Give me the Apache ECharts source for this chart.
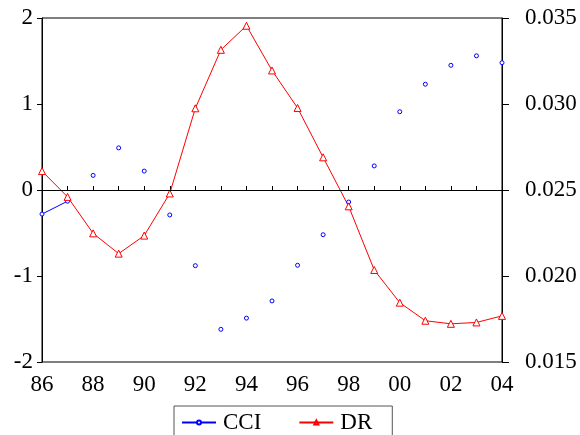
<!DOCTYPE html>
<html>
<head>
<meta charset="utf-8">
<script src="https://cdn.jsdelivr.net/npm/echarts@6/dist/echarts.min.js"></script>
<style>html,body{margin:0;padding:0;background:#fff}#c{width:580px;height:435px}</style>
</head>
<body>
<div id="c"></div>
<script>
var years = ['86','87','88','89','90','91','92','93','94','95','96','97','98','99','00','01','02','03','04'];
var cci = [-0.28,-0.13,0.17,0.49,0.22,-0.29,-0.88,-1.62,-1.49,-1.29,-0.875,-0.52,-0.14,0.28,0.91,1.23,1.45,1.56,1.48];
var dr = [0.0261,0.0246,0.02248,0.0213,0.02235,0.0248,0.02975,0.03315,0.03455,0.03195,0.02977,0.0269,0.02405,0.02035,0.01845,0.0174,0.01722,0.0173,0.01768];
var leftTicks = {min:-2, max:2, interval:1};
var rightTicks = {min:0.015, max:0.035, interval:0.005};

var font = '"Liberation Serif", "Times New Roman", serif';
var fs = 23;
var cciSegment = cci.map(function(v,i){ return i < 2 ? v : null; });

var chart = echarts.init(document.getElementById('c'), null, {renderer:'canvas'});
chart.setOption({
  animation:false,
  backgroundColor:'#fff',
  grid:{left:42, right:78, top:18, height:344, show:true, borderColor:'#000', borderWidth:1, backgroundColor:'transparent'},
  legend:{
    top:406, left:174,
    padding:[5,20,14,7],
    borderColor:'#555', borderWidth:1,
    itemWidth:34, itemHeight:5, itemGap:37,
    textStyle:{fontFamily:font, fontSize:fs, color:'#000', padding:[0,0,0,2]},
    data:['CCI','DR']
  },
  xAxis:{
    type:'category', data:years, boundaryGap:false,
    axisLine:{lineStyle:{color:'#000', width:1}},
    axisTick:{inside:true, length:4, interval:0, lineStyle:{color:'#000'}},
    axisLabel:{interval:1, margin:11, fontFamily:font, fontSize:fs, color:'#000'},
    splitLine:{show:false}
  },
  yAxis:[
    {type:'value', min:leftTicks.min, max:leftTicks.max, interval:leftTicks.interval, position:'left',
     axisLine:{show:true, lineStyle:{color:'#000'}},
     axisTick:{show:true, length:5, lineStyle:{color:'#000'}},
     axisLabel:{margin:9, fontFamily:font, fontSize:fs, color:'#000'},
     splitLine:{show:false}},
    {type:'value', min:rightTicks.min, max:rightTicks.max, interval:rightTicks.interval, position:'right',
     axisLine:{show:true, lineStyle:{color:'#000'}},
     axisTick:{show:true, length:7, lineStyle:{color:'#000'}},
     axisLabel:{margin:23, fontFamily:font, fontSize:fs, color:'#000', formatter:function(v){return v.toFixed(3);}},
     splitLine:{show:false}}
  ],
  series:[
    {name:'CCI', type:'line', yAxisIndex:0, data:cciSegment, connectNulls:false,
     symbol:'circle', symbolSize:3, showSymbol:false,
     lineStyle:{color:'#0000ff', width:1}, itemStyle:{color:'#fff', borderColor:'#0000ff', borderWidth:1},
     markLine:{silent:true, symbol:'none', label:{show:false}, lineStyle:{color:'#000', width:1, type:'solid'}, data:[{yAxis:0}]}
    },
    {name:'CCI', type:'line', yAxisIndex:0, data:cci,
     symbol:'circle', symbolSize:4, showSymbol:true,
     lineStyle:{width:0, opacity:0}, itemStyle:{color:'#fff', borderColor:'#0000ff', borderWidth:1}
    },
    {name:'DR', type:'line', yAxisIndex:1, data:dr,
     symbol:'triangle', symbolSize:7, showSymbol:true,
     lineStyle:{color:'#ff0000', width:1}, itemStyle:{color:'#fff', borderColor:'#ff0000', borderWidth:1}
    }
  ]
});
</script>
</body>
</html>
